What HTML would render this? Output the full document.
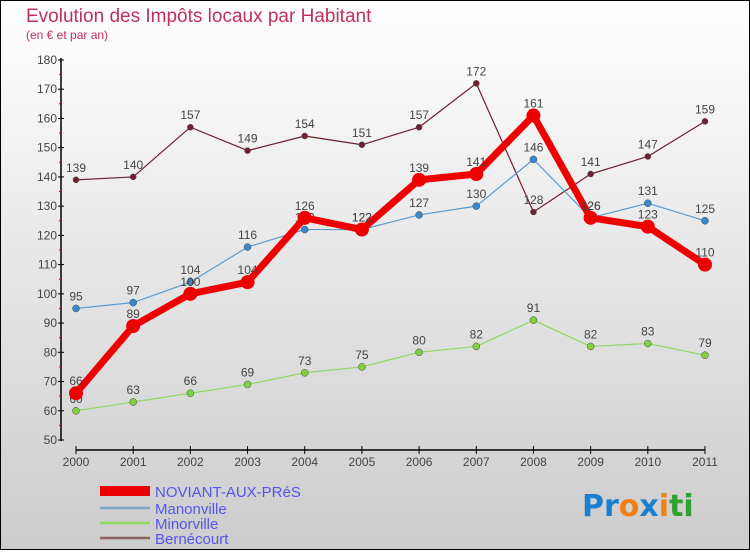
<!DOCTYPE html>
<html><head><meta charset="utf-8"><style>
body{margin:0;width:750px;height:550px;overflow:hidden;font-family:"Liberation Sans",sans-serif}
</style></head><body>
<svg id="c" width="750" height="550" xmlns="http://www.w3.org/2000/svg">
<defs><linearGradient id="bg" x1="0" y1="0" x2="0" y2="1"><stop offset="0" stop-color="#ffffff"/><stop offset="1" stop-color="#cccccc"/></linearGradient></defs>
<rect x="0.5" y="0.5" width="749" height="549" fill="url(#bg)" stroke="#000"/>
<text x="26" y="22" font-size="19" fill="#c0305a">Evolution des Impôts locaux par Habitant</text>
<text x="26" y="39" font-size="12" fill="#c0305a">(en € et par an)</text>
<g id="axes"></g><g id="series"></g><g id="legend"></g>
<text x="582" y="516" font-size="30" font-weight="bold" font-family="DejaVu Sans, sans-serif"><tspan fill="#1a7fd0">Pr</tspan><tspan fill="#f08010">o</tspan><tspan fill="#1a7fd0">x</tspan><tspan fill="#f08010">i</tspan><tspan fill="#30a030">ti</tspan></text>
</svg>
<script>
const years=["2000","2001","2002","2003","2004","2005","2006","2007","2008","2009","2010","2011"];
const yTicks=[50,60,70,80,90,100,110,120,130,140,150,160,170,180];
const noviant=[66,89,100,104,126,122,139,141,161,126,123,110];
const manonville=[95,97,104,116,122,122,127,130,146,126,131,125];
const minorville=[60,63,66,69,73,75,80,82,91,82,83,79];
const bernecourt=[139,140,157,149,154,151,157,172,128,141,147,159];
const NS="http://www.w3.org/2000/svg";
const xs=i=>76+i*(705-76)/11;
const ys=v=>440-(v-50)*380/130;
function mk(tag,attrs,parent,txt){const e=document.createElementNS(NS,tag);for(const k in attrs)e.setAttribute(k,attrs[k]);if(txt!==undefined)e.textContent=txt;parent.appendChild(e);return e;}
const ax=document.getElementById('axes');
let e=mk('line',{x1:61,y1:58,x2:61,y2:441,stroke:'#000','stroke-width':1.5},ax);

e=mk('line',{x1:76,y1:450,x2:705,y2:450,stroke:'#000','stroke-width':1.5},ax);

yTicks.forEach((t,i)=>{
 mk('line',{x1:58,y1:ys(t),x2:64,y2:ys(t),stroke:'#000'},ax);
 if(i<yTicks.length-1)mk('line',{x1:59,y1:ys(t+5),x2:62,y2:ys(t+5),stroke:'#d00'},ax);
 e=mk('text',{x:57,y:ys(t)+4,'font-size':12,fill:'#444','text-anchor':'end'},ax,t);
 
});
years.forEach((y,i)=>{
 mk('line',{x1:xs(i),y1:446,x2:xs(i),y2:454,stroke:'#000'},ax);
 e=mk('text',{x:xs(i),y:466,'font-size':12,fill:'#444','text-anchor':'middle'},ax,y);
 
});
const ser=document.getElementById('series');
const defs=[
 {name:'Bernécourt',d:bernecourt,c:'#702030',w:1.2,r:3,lc:'#8b6060',lw:3,key:'bernecourt'},
 {name:'Minorville',d:minorville,c:'#90d860',w:1.2,r:3.5,lc:'#90d860',lw:3,key:'minorville',fill:'#80d040'},
 {name:'Manonville',d:manonville,c:'#5a9ad0',w:1.2,r:3.5,lc:'#7aa6c8',lw:3,key:'manonville',fill:'#3a88cc'},
 {name:'NOVIANT-AUX-PRéS',d:noviant,c:'#ee0000',w:7,r:7,lc:'#ee0000',lw:9,key:'noviant'}
];
defs.forEach(s=>{
 const g=mk('g',{},ser);
 
 e=mk('polyline',{points:s.d.map((v,i)=>xs(i)+','+ys(v)).join(' '),fill:'none',stroke:s.c,'stroke-width':s.w,'stroke-linejoin':'round'},g);
 
 s.d.forEach((v,i)=>{
  e=mk('circle',{cx:xs(i),cy:ys(v),r:s.r,fill:s.fill||s.c,stroke:s.key==='noviant'?'none':'#444','stroke-width':0.5},g);
  
  e=mk('text',{x:xs(i),y:ys(v)-8,'font-size':12,fill:'#444','text-anchor':'middle'},g,v);
  
 });
});
const lg=document.getElementById('legend');
const legOrder=[defs[3],defs[2],defs[1],defs[0]];
const ly=[492,509,524,539];
legOrder.forEach((s,i)=>{
 const g=mk('g',{},lg);
 
 mk('line',{x1:100,y1:ly[i]-1,x2:150,y2:ly[i]-1,stroke:s.lc,'stroke-width':s.key==='noviant'?10:2.5},g);
 mk('text',{x:155,y:ly[i]+5,'font-size':15,fill:'#5555ee'},g,s.name);
});
</script>
</body></html>
